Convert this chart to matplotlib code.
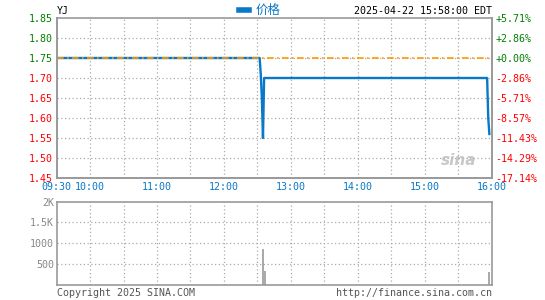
import matplotlib
matplotlib.use("Agg")
import matplotlib.pyplot as plt

# --- data ---
prev_close = 1.75
price_times = ["09:30", "12:32", "12:33", "12:34", "12:35", "12:36", "15:56", "15:57", "15:58"]
price_vals = [1.75, 1.75, 1.71, 1.65, 1.55, 1.70, 1.70, 1.60, 1.56]
vol_times = ["12:35", "12:37", "15:58"]
vol_vals = [860, 340, 320]
price_ticks = [1.45, 1.50, 1.55, 1.60, 1.65, 1.70, 1.75, 1.80, 1.85]
time_labels = ["09:30", "10:00", "11:00", "12:00", "13:00", "14:00", "15:00", "16:00"]
vol_ticks = [500, 1000, 1500, 2000]
vol_tick_labels = ["500", "1000", "1.5K", "2K"]


def to_min(s):
    h, m = s.split(":")
    return (int(h) - 9) * 60 + int(m) - 30


MONO = "DejaVu Sans Mono"
FS = 7.2
GRID = "#aaaaaa"
SPINE = "#999999"
BLUE = "#0a78c8"
GREEN = "#008000"
RED = "#ff0000"

fig = plt.figure(figsize=(5.45, 3.0), dpi=100)
ax = fig.add_axes([0.104, 0.4067, 0.798, 0.5333])
axv = fig.add_axes([0.104, 0.05, 0.798, 0.278])

px = [to_min(t) for t in price_times]
ax.plot(px, price_vals, color=BLUE, lw=1.7, label="价格", zorder=3)
ax.axhline(prev_close, color="#ff9900", lw=1.2, ls=(0, (4, 2, 1, 2)), zorder=4)

ax.set_xlim(0, 390)
ax.set_ylim(1.45, 1.85)
ax.set_yticks(price_ticks)
ax.set_yticklabels([f"{p:.2f}" for p in price_ticks], family=MONO, fontsize=FS)
for lab, p in zip(ax.get_yticklabels(), price_ticks):
    lab.set_color(GREEN if p >= prev_close - 1e-9 else RED)

grid_x = list(range(30, 390, 30))
ax.set_xticks([0] + [to_min(t) for t in time_labels[1:]])
ax.set_xticklabels(time_labels, family=MONO, fontsize=FS, color=BLUE)
ax.tick_params(length=0, pad=3)
for gx in grid_x:
    ax.axvline(gx, color=GRID, lw=0.9, ls=(0, (1, 2)), zorder=1)
for gy in price_ticks[1:-1]:
    ax.axhline(gy, color=GRID, lw=0.9, ls=(0, (1, 2)), zorder=1)

# right percentage axis
ax2 = ax.twinx()
ax2.set_ylim(ax.get_ylim())
ax2.set_yticks(price_ticks)
pct = [(p - prev_close) / prev_close * 100 for p in price_ticks]
ax2.set_yticklabels([f"{v:+.2f}%" for v in pct], family=MONO, fontsize=FS)
for lab, v in zip(ax2.get_yticklabels(), pct):
    lab.set_color(GREEN if v >= -1e-9 else RED)
ax2.tick_params(length=0, pad=3)

for a in (ax, ax2, axv):
    for s in a.spines.values():
        s.set_color(SPINE)
        s.set_linewidth(1.2)
ax2.spines["top"].set_visible(False)

# header
ax.text(0.0, 1.015, "YJ", transform=ax.transAxes, family=MONO, fontsize=FS,
        ha="left", va="bottom", color="black")
ax.text(1.0, 1.015, "2025-04-22 15:58:00 EDT", transform=ax.transAxes, family=MONO,
        fontsize=FS, ha="right", va="bottom", color="black")
leg = ax.legend(loc="lower center", bbox_to_anchor=(0.467, 0.965), frameon=False,
                handlelength=0.8, handletextpad=0.6, borderpad=0,
                prop={"family": ["Noto Sans CJK SC", "DejaVu Sans"], "size": 9},
                labelcolor=BLUE)
for h in leg.legend_handles:
    h.set_linewidth(4)

# watermark
ax.text(0.965, 0.06, "sina", transform=ax.transAxes, fontsize=11, fontweight="bold",
        fontstyle="italic", color="#bbbbbb", ha="right", va="bottom", alpha=0.8)

# volume panel
vx = [to_min(t) for t in vol_times]
axv.vlines(vx, 0, vol_vals, color="#999999", lw=1.2, zorder=3)
axv.set_xlim(0, 390)
axv.set_ylim(0, 2000)
axv.set_xticks([])
axv.set_yticks(vol_ticks)
axv.set_yticklabels(vol_tick_labels, family=MONO, fontsize=FS, color="#888888")
axv.tick_params(length=0, pad=2)
for gx in grid_x:
    axv.axvline(gx, color=GRID, lw=0.9, ls=(0, (1, 2)), zorder=1)
for gy in vol_ticks[:-1]:
    axv.axhline(gy, color=GRID, lw=0.9, ls=(0, (1, 2)), zorder=1)

axv.text(0.0, -0.03, "Copyright 2025 SINA.COM", transform=axv.transAxes, family=MONO,
         fontsize=FS, ha="left", va="top", color="#555555")
axv.text(1.0, -0.03, "http://finance.sina.com.cn", transform=axv.transAxes, family=MONO,
         fontsize=FS, ha="right", va="top", color="#555555")

fig.savefig("out.png", dpi=100, facecolor="white")
